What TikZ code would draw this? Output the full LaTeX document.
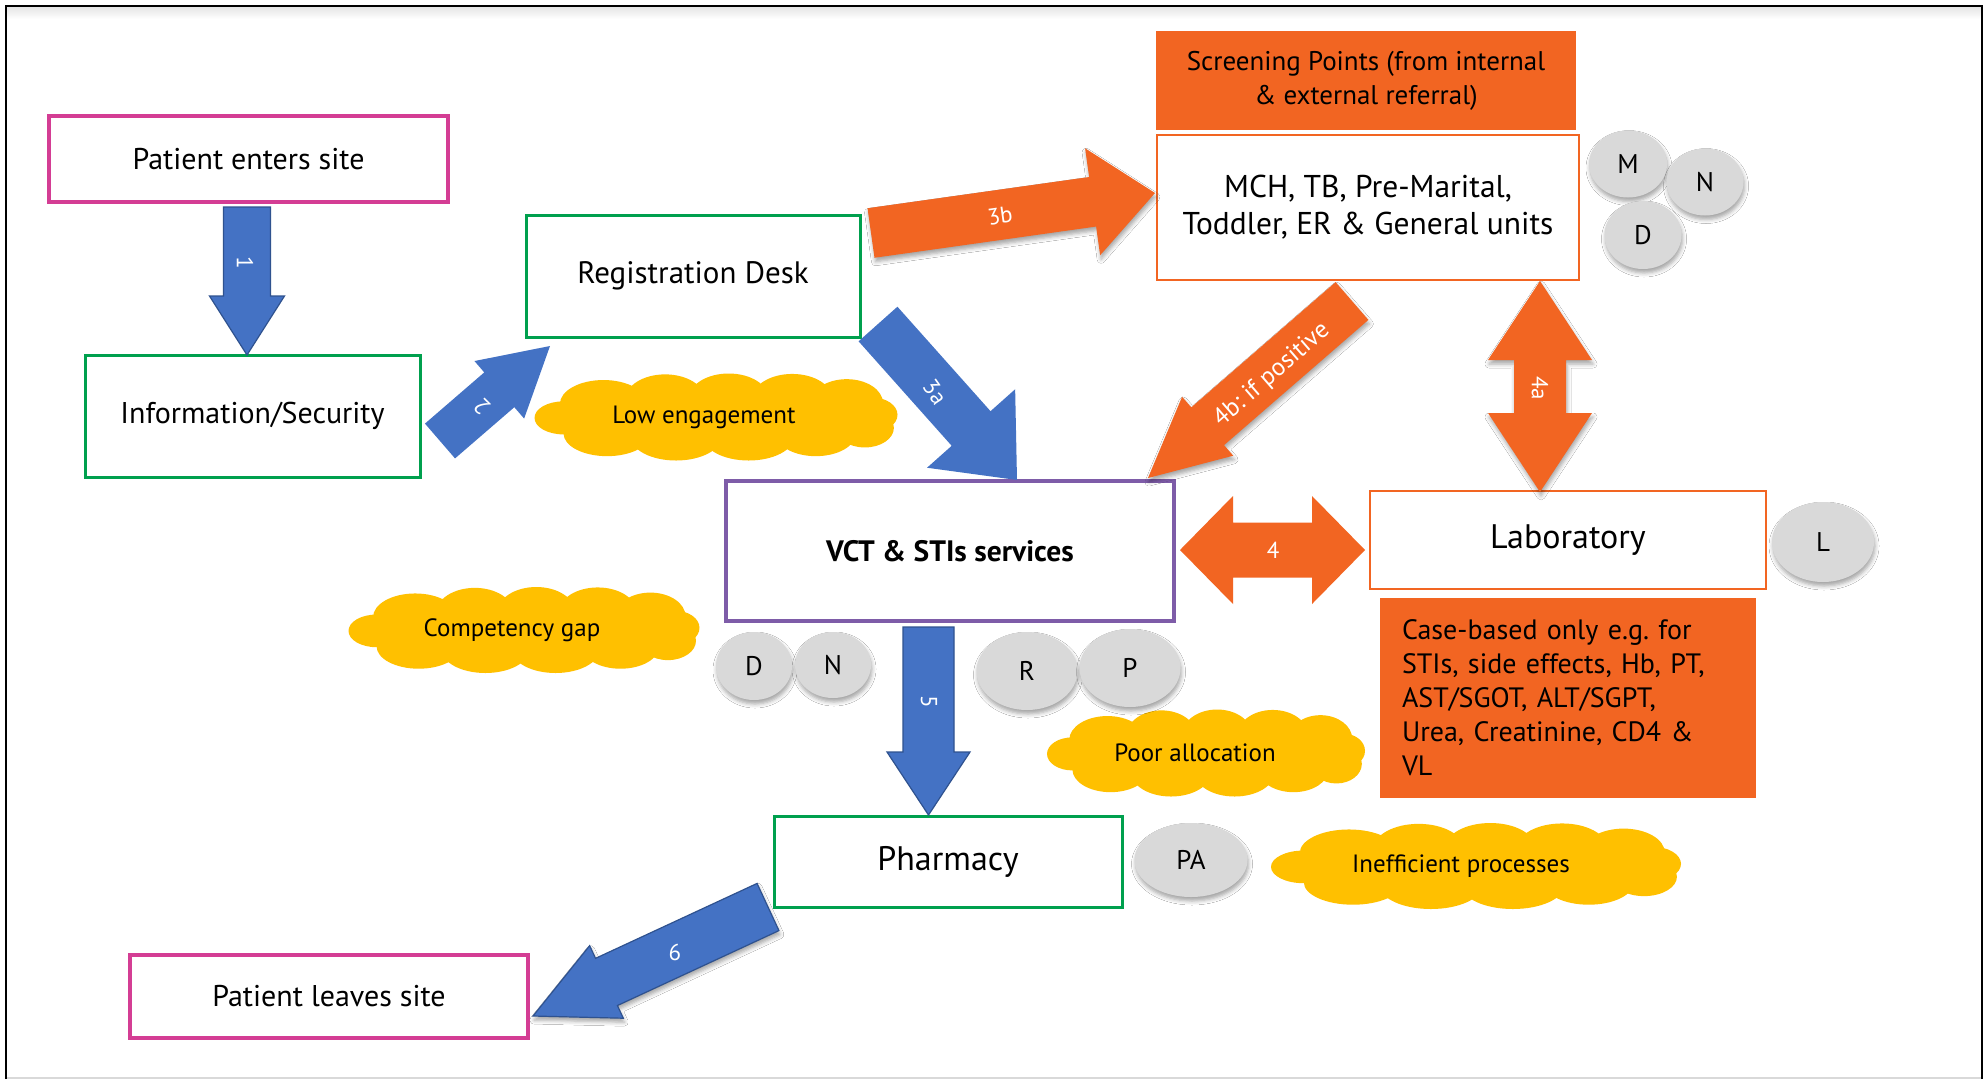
\documentclass[tikz,border=0pt]{standalone}
\usepackage{fontspec}
\setmainfont{PT Sans}
\usetikzlibrary{calc,shapes.geometric,shadows,shadows.blur}

\definecolor{pinkedge}{HTML}{D43D94}
\definecolor{greenedge}{HTML}{00A04E}
\definecolor{purpleedge}{HTML}{7E5CA8}
\definecolor{flame}{HTML}{F26522}
\definecolor{flowblue}{HTML}{4472C4}
\definecolor{flowblueedge}{HTML}{2F528F}
\definecolor{amber}{HTML}{FFC000}
\definecolor{staffgray}{HTML}{D9D9D9}

\newcommand\fsz[2]{\fontsize{#1}{#2}\selectfont}

% straight block arrow: style, tail, tip, shaft half-width, head half-width, head length
\newcommand\blockarrow[6]{%
  \coordinate (bh) at ($(#3)!#6!(#2)$);
  \path[#1] ($(#2)!#4!90:(#3)$) -- ($(bh)!#4!90:(#3)$) -- ($(bh)!#5!90:(#3)$) -- (#3)
    -- ($(bh)!#5!-90:(#3)$) -- ($(bh)!#4!-90:(#3)$) -- ($(#2)!#4!-90:(#3)$) -- cycle;}

% two-headed block arrow: style, end A, end B, shaft half-width, head half-width, head length
\newcommand\twowayarrow[6]{%
  \coordinate (ha) at ($(#2)!#6!(#3)$);
  \coordinate (hb) at ($(#3)!#6!(#2)$);
  \path[#1] (#2) -- ($(ha)!#5!90:(#3)$) -- ($(ha)!#4!90:(#3)$) -- ($(hb)!#4!90:(#3)$)
    -- ($(hb)!#5!90:(#3)$) -- (#3) -- ($(hb)!#5!-90:(#3)$) -- ($(hb)!#4!-90:(#3)$)
    -- ($(ha)!#4!-90:(#3)$) -- ($(ha)!#5!-90:(#3)$) -- cycle;}

% puffy cloud built from overlapping ellipses:
% name, centre x, centre y, width, height, text x-offset, text
\newcommand\issuecloud[7]{%
  \begin{scope}[shift={(#2,#3)}, xscale=#4/2, yscale=#5/2]
    \fill[amber]
      (0,0.05) ellipse [x radius=0.88, y radius=0.65]
      (-0.62,-0.30) ellipse [x radius=0.24, y radius=0.55]
      (-0.28,-0.40) ellipse [x radius=0.22, y radius=0.58]
      (0.07,-0.42) ellipse [x radius=0.22, y radius=0.58]
      (0.42,-0.42) ellipse [x radius=0.22, y radius=0.57]
      (0.72,-0.32) ellipse [x radius=0.20, y radius=0.55]
      (-0.60,0.38) ellipse [x radius=0.24, y radius=0.52]
      (-0.22,0.45) ellipse [x radius=0.25, y radius=0.55]
      (0.18,0.45) ellipse [x radius=0.25, y radius=0.55]
      (0.55,0.38) ellipse [x radius=0.22, y radius=0.52]
      (0.82,0.25) ellipse [x radius=0.16, y radius=0.45]
      (-0.84,0.02) ellipse [x radius=0.16, y radius=0.38]
      (0.86,-0.05) ellipse [x radius=0.14, y radius=0.40];
  \end{scope}
  \node[issuetext] (#1) at ($(#2,#3)+(#6,0)$) {#7};}

\tikzset{
  box/.style={rectangle, fill=white, inner sep=0pt, align=center},
  pinkbox/.style={box, draw=pinkedge, line width=4pt, font=\fsz{30pt}{36pt}},
  greenbox/.style={box, draw=greenedge, line width=3pt, font=\fsz{30pt}{36pt}},
  orangebox/.style={box, draw=flame, line width=2.5pt, font=\fsz{31.5pt}{37pt}},
  notebox/.style={rectangle, fill=flame, inner sep=0pt},
  vctbox/.style={box, draw=purpleedge, line width=4pt, font=\bfseries\fsz{29.5pt}{34pt}},
  softshadow/.style={blur shadow={shadow xshift=1pt, shadow yshift=-4pt,
      shadow blur radius=4pt, shadow opacity=35}},
  staff/.style={ellipse, fill=staffgray, inner sep=0pt, font=\fsz{27pt}{32pt}, softshadow},
  issuetext/.style={inner sep=0pt, font=\fsz{25pt}{30pt}},
  bluearrow/.style={fill=flowblue, line join=miter},
  blueedged/.style={bluearrow, draw=flowblueedge, line width=1.2pt},
  orangearrow/.style={fill=flame, line join=miter},
  alabel/.style={text=white, font=\fsz{23pt}{28pt}, inner sep=0pt},
}

\begin{document}
\frenchspacing
\begin{tikzpicture}[x=1pt,y=-1pt]
\useasboundingbox (0,0) rectangle (1988,1080);
\fill[white] (0,0) rectangle (1988,1080);

% page frame with a soft shade under the top edge
\shade[top color=black!10, bottom color=white] (7,7) rectangle (1981,19);
\draw[black!15, line width=2pt] (6,1078) -- (1982,1078);
\draw[line width=2pt] (6,1079) -- (6,6) -- (1982,6) -- (1982,1079);

% problem areas
\issuecloud{engage}{716}{417}{363}{87}{-12}{Low engagement}
\issuecloud{compet}{524}{630}{351}{86}{-12}{Competency gap}
\issuecloud{alloc}{1206}{753}{318}{87}{-11}{Poor allocation}
\issuecloud{ineff}{1476}{866}{410}{86}{-15}{Inefficient processes}

% staff cadres
\node[staff, minimum width=78pt, minimum height=67pt] (sM) at (1628,164) {M};
\node[staff, minimum width=77pt, minimum height=67pt] (sN) at (1705,182) {N};
\node[staff, minimum width=77pt, minimum height=68pt] (sD) at (1643,235) {D};
\node[staff, minimum width=102pt, minimum height=80pt] (sL) at (1823,542) {L};
\node[staff, minimum width=76pt, minimum height=68pt] (vD) at (754,666) {D};
\node[staff, minimum width=76pt, minimum height=66pt] (vN) at (833,665) {N};
\node[staff, minimum width=101pt, minimum height=78pt] (vR) at (1027,671) {R};
\node[staff, minimum width=101pt, minimum height=78pt] (vP) at (1130,668) {P};
\node[staff, minimum width=113pt, minimum height=74pt] (sPA) at (1191,860) {PA};

% service points
\node[pinkbox, minimum width=399pt, minimum height=86pt] (enter) at (248.5,159) {Patient enters site};
\node[greenbox, minimum width=335pt, minimum height=122pt] (info) at (252.5,416) {Information/Security};
\node[greenbox, minimum width=334pt, minimum height=122pt, font=\fsz{31pt}{36pt}] (reg) at (693,276) {Registration Desk};
\node[notebox, minimum width=420pt, minimum height=99pt, align=center, font=\fsz{27pt}{34pt}] (screen) at (1366,80.5)
  {Screening Points (from internal\\\& external referral)};
\node[orangebox, minimum width=422pt, minimum height=145pt] (units) at (1368,207.5)
  {MCH, TB, Pre-Marital,\\Toddler, ER \& General units};
\node[vctbox, minimum width=448pt, minimum height=140pt] (vct) at (950,551) {VCT \& STIs services};
\node[orangebox, minimum width=396pt, minimum height=98pt, font=\fsz{34pt}{40pt}] (lab) at (1568,540) {Laboratory};
\node[notebox, minimum width=376pt, minimum height=200pt, text width=332pt, align=left, font=\fsz{28pt}{34pt}] (tests) at (1568,698)
  {Case-based only e.g. for\\STIs, side effects, Hb, PT,\\AST/SGOT, ALT/SGPT,\\Urea, Creatinine, CD4 \&\\VL};
\node[greenbox, minimum width=348pt, minimum height=91pt, font=\fsz{34pt}{40pt}] (pharm) at (948,861.5) {Pharmacy};
\node[pinkbox, minimum width=398pt, minimum height=83pt] (leave) at (329,996.5) {Patient leaves site};

% arrow ends
\coordinate (a1s) at (247,207);   \coordinate (a1e) at (247,355);
\coordinate (a2s) at (440,441);   \coordinate (a2e) at (550,346);
\coordinate (a3as) at (878,324);  \coordinate (a3ae) at (1017,480);
\coordinate (a3bs) at (871,233);  \coordinate (a3be) at (1155,193);
\coordinate (a4bs) at (1352,301); \coordinate (a4be) at (1148,478);
\coordinate (a4at) at (1540,281); \coordinate (a4ab) at (1540,492);
\coordinate (a4l) at (1180,550);  \coordinate (a4r) at (1365,550);
\coordinate (a5s) at (928.5,627); \coordinate (a5e) at (928.5,815);
\coordinate (a6s) at (768,907);   \coordinate (a6e) at (533,1016);

% flow arrows
\blockarrow{blueedged}{a1s}{a1e}{23.5pt}{37.5pt}{59pt}
\blockarrow{bluearrow}{a2s}{a2e}{23pt}{38pt}{67pt}
\blockarrow{bluearrow}{a3as}{a3ae}{26pt}{59pt}{69pt}
\blockarrow{orangearrow, softshadow}{a3bs}{a3be}{25pt}{54pt}{63pt}
\blockarrow{orangearrow, softshadow}{a4bs}{a4be}{25pt}{39pt}{79pt}
\twowayarrow{orangearrow, softshadow}{a4at}{a4ab}{26pt}{52pt}{79pt}
\twowayarrow{orangearrow}{a4l}{a4r}{27.5pt}{54pt}{53pt}
\blockarrow{blueedged}{a5s}{a5e}{25.5pt}{41.5pt}{63pt}
\blockarrow{blueedged, softshadow}{a6s}{a6e}{26pt}{40pt}{81pt}

% step numbers
\node[alabel, rotate=-90] (n1) at (245,263) {1};
\node[alabel, rotate=135] (n2) at (482,407) {2};
\node[alabel, rotate=-55] (n3a) at (935,392) {3a};
\node[alabel, rotate=8] (n3b) at (1000,216) {3b};
\node[alabel, rotate=41, font=\fsz{25pt}{30pt}] (n4b) at (1272,375) {4b: if positive};
\node[alabel, rotate=-90] (n4a) at (1540,388) {4a};
\node[alabel] (n4) at (1273,550) {4};
\node[alabel, rotate=-90] (n5) at (929,702) {5};
\node[alabel] (n6) at (675,952) {6};
\end{tikzpicture}
\end{document}
